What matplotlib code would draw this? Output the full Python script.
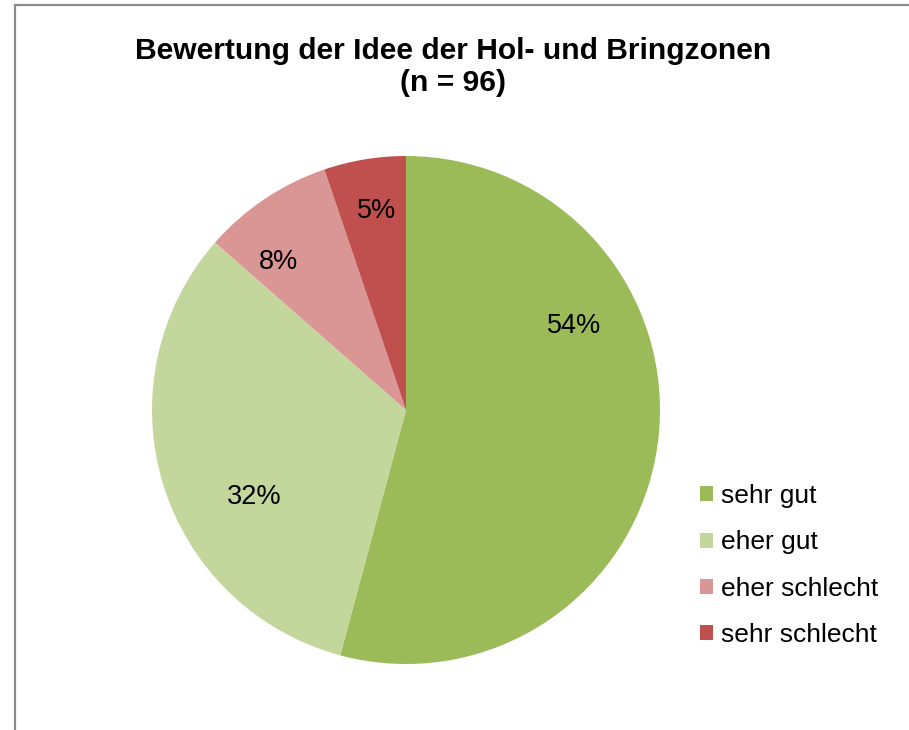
import numpy as np
import matplotlib
matplotlib.use("Agg")
import matplotlib.pyplot as plt
from matplotlib.patches import Rectangle

categories = ["sehr gut", "eher gut", "eher schlecht", "sehr schlecht"]
counts = [52, 31, 8, 5]
colors = ["#9BBB59", "#C3D69B", "#D99694", "#C0504D"]
title = "Bewertung der Idee der Hol- und Bringzonen\n(n = 96)"

# label placement (style): radial distance and angular shift in degrees per wedge
label_r = [0.74, 0.69, 0.77, 0.79]
label_dtheta = [34, 13, 7, -1]

plt.rcParams['font.family'] = ['Liberation Sans', 'DejaVu Sans']

fig = plt.figure(figsize=(9.09, 7.30), dpi=100)
fig.patch.set_facecolor("white")

# outer frame
fig.patches.append(Rectangle((15/909, -0.1), 1.2, 1 - 5/730 + 0.1, transform=fig.transFigure,
                             fill=False, edgecolor="#8c8c8c", linewidth=1.6))

# pie axes: center (406,410), radius 254 px
cx, cy, r = 406, 410, 254
ax = fig.add_axes([(cx - r) / 909, 1 - (cy + r) / 730, 2 * r / 909, 2 * r / 730])
wedges, texts, autotexts = ax.pie(counts, colors=colors, startangle=90, counterclock=False,
                                  autopct=lambda p: f"{p:.0f}%", pctdistance=0.74,
                                  radius=1.0, wedgeprops=dict(linewidth=0),
                                  textprops=dict(fontsize=19.5, color="black"))
for w, t, rr, dth in zip(wedges, autotexts, label_r, label_dtheta):
    ang = np.deg2rad((w.theta1 + w.theta2) / 2 + dth)
    t.set_position((rr * np.cos(ang), rr * np.sin(ang)))
ax.set_xlim(-1, 1)
ax.set_ylim(-1, 1)
ax.set_aspect("equal")
ax.axis("off")

fig.text(453 / 909, 1 - 67 / 730, title, ha="center", va="center", fontsize=21.6,
         fontweight="bold", linespacing=1.22)

leg = fig.legend(wedges, categories, loc="upper left", bbox_to_anchor=(695 / 909, 1 - 479 / 730),
                 frameon=False, fontsize=19, handlelength=0.5, handleheight=0.5,
                 handletextpad=0.3, labelspacing=0.84, borderaxespad=0, borderpad=0.2)

fig.savefig("out.png", dpi=100, facecolor="white")
